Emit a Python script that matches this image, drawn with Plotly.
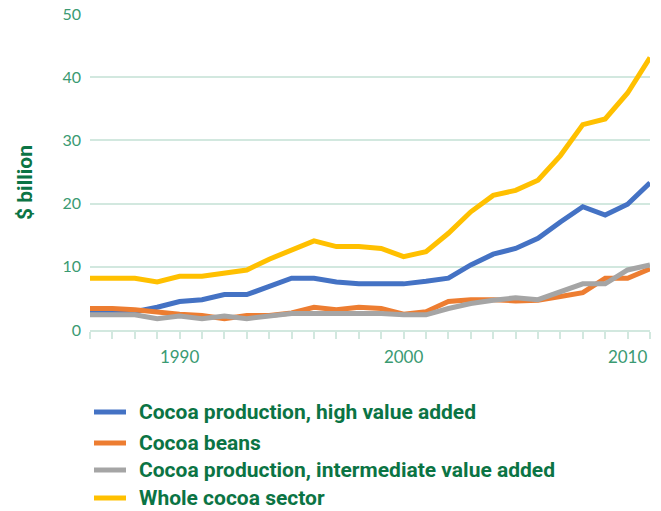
import plotly.graph_objects as go

years = list(range(1986, 2012))

high_value = [2.8, 2.8, 2.9, 3.6, 4.5, 4.8, 5.6, 5.6, 6.8, 8.2, 8.2, 7.6, 7.3,
              7.3, 7.3, 7.7, 8.2, 10.3, 12.0, 12.9, 14.5, 17.1, 19.5, 18.2, 19.9, 23.3]
beans = [3.4, 3.4, 3.2, 2.8, 2.5, 2.3, 1.8, 2.3, 2.3, 2.7, 3.6, 3.2, 3.6,
         3.4, 2.5, 2.9, 4.5, 4.8, 4.8, 4.6, 4.7, 5.3, 5.9, 8.2, 8.2, 9.7]
intermediate = [2.4, 2.4, 2.4, 1.8, 2.2, 1.8, 2.2, 1.8, 2.2, 2.6, 2.6, 2.6, 2.6,
                2.6, 2.4, 2.4, 3.4, 4.2, 4.7, 5.1, 4.8, 6.1, 7.3, 7.3, 9.5, 10.3]
whole = [8.2, 8.2, 8.2, 7.6, 8.5, 8.5, 9.0, 9.5, 11.2, 12.7, 14.1, 13.2, 13.2,
         12.9, 11.6, 12.4, 15.3, 18.7, 21.3, 22.1, 23.7, 27.6, 32.5, 33.4, 37.5, 43.1]

series_names = ["Cocoa production, high value added", "Cocoa beans",
                "Cocoa production, intermediate value added", "Whole cocoa sector"]
series_values = [high_value, beans, intermediate, whole]
series_colors = ["#4472C4", "#ED7D31", "#A5A5A5", "#FFC000"]

x_tick_years = [1990, 2000, 2010]
y_ticks = [0, 10, 20, 30, 40, 50]

GRID = "#d2e8df"
TICK_TEXT = "#3a9a72"
DARK_GREEN = "#0b7444"
BOLD_FONT = dict(family="Roboto, sans-serif", size=21, color=DARK_GREEN, weight="bold")

W, H = 661, 511
L, R, T, B = 90, 11, 14, 181
PW, PH = W - L - R, H - T - B


def px_to_paper(px, py):
    return (px - L) / PW, (H - B - py) / PH


fig = go.Figure()
for name, vals, color in zip(series_names, series_values, series_colors):
    fig.add_trace(go.Scatter(
        x=years, y=vals, name=name, mode="lines",
        line=dict(color=color, width=5),
        showlegend=False,
    ))

# Legend below the plot: short coloured bars with bold labels
legend_rows_py = [412, 443, 470, 498]
for name, color, py in zip(series_names, series_colors, legend_rows_py):
    x0, y = px_to_paper(94, py)
    x1, _ = px_to_paper(126, py)
    fig.add_shape(type="line", xref="paper", yref="paper",
                  x0=x0, x1=x1, y0=y, y1=y,
                  line=dict(color=color, width=5))
    tx, _ = px_to_paper(137, py)
    fig.add_annotation(xref="paper", yref="paper", x=tx, y=y,
                       xanchor="left", yanchor="middle", showarrow=False,
                       text=name, font=BOLD_FONT)

# Rotated y-axis title
tx, ty = px_to_paper(25, 183)
fig.add_annotation(xref="paper", yref="paper", x=tx, y=ty,
                   xanchor="center", yanchor="middle", showarrow=False,
                   textangle=-90, text="$ billion", font=BOLD_FONT)

fig.update_layout(
    width=W, height=H,
    margin=dict(l=L, r=R, t=T, b=B, autoexpand=False),
    paper_bgcolor="white", plot_bgcolor="white",
    font=dict(family="Lato, Open Sans, sans-serif"),
    showlegend=False,
)

fig.update_xaxes(
    range=[1986, 2011],
    tickvals=x_tick_years,
    ticks="outside", ticklen=7, tickwidth=2, tickcolor=GRID,
    minor=dict(dtick=1, tick0=1986, ticks="outside", ticklen=7, tickwidth=2,
               tickcolor=GRID, showgrid=False),
    showline=True, linecolor=GRID, linewidth=2,
    showgrid=False, zeroline=False,
    tickfont=dict(size=17, color=TICK_TEXT, family="Lato, sans-serif"),
    ticklabelstandoff=4,
    automargin=False,
)

fig.update_yaxes(
    range=[0, 50],
    tickvals=y_ticks,
    showgrid=True, gridcolor=GRID, gridwidth=2,
    zeroline=False, showline=False, ticks="",
    tickfont=dict(size=16, color=TICK_TEXT, family="Lato, sans-serif"),
    ticklabelstandoff=8,
    automargin=False,
)

fig.write_html("out.html")
